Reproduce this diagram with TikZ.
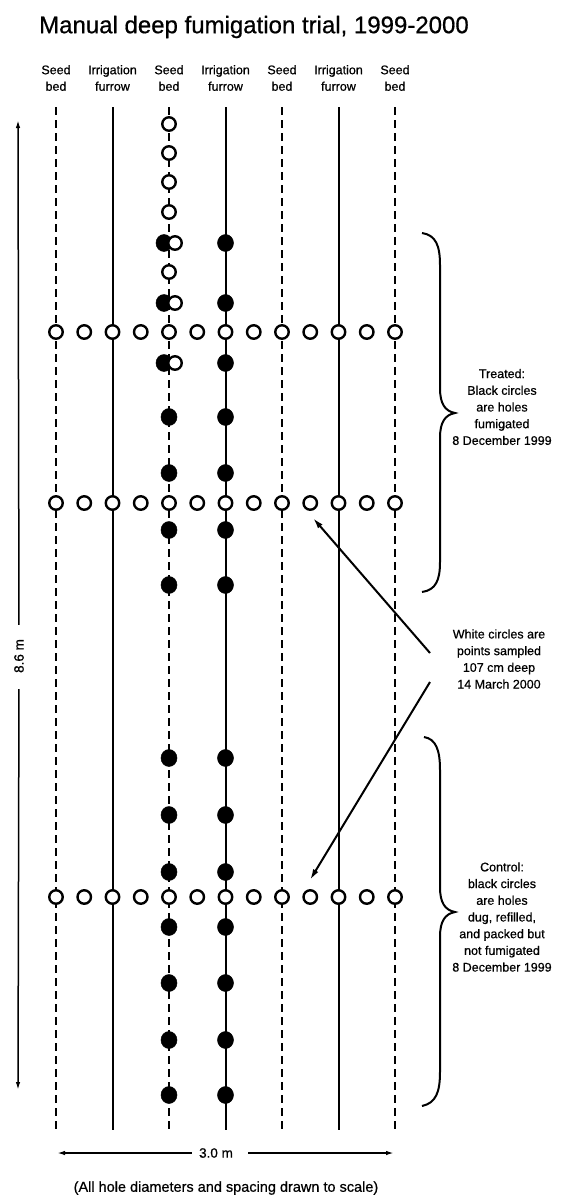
\documentclass[tikz,border=0pt]{standalone}
\usepackage{fontspec}
\setmainfont{Liberation Sans}
\newfontfamily\scanfont{Liberation Sans}[FakeBold=0.6]
\usetikzlibrary{arrows.meta,calc,shapes.geometric}
\begin{document}
\begin{tikzpicture}[x=1pt,y=-1pt,
  seedline/.style={line width=2.4pt, dash pattern=on 8pt off 5pt},
  furrowline/.style={line width=2pt},
  wh/.style={circle, draw, fill=white, line width=2.4pt, minimum size=13.5pt, inner sep=0pt},
  bk/.style={ellipse, fill=black, draw=black, line width=0.5pt, minimum width=16pt, minimum height=17pt, inner sep=0pt},
  lab/.style={font=\scanfont\fontsize{12.5}{16.5}\selectfont, align=center, inner sep=0pt},
  side/.style={font=\scanfont\fontsize{12.5}{16.7}\selectfont, align=center, inner sep=0pt},
  arr/.style={line width=2pt, -{Latex[length=11pt,width=6pt]}},
  dim/.style={line width=1.5pt, -{Latex[length=8pt,width=4.5pt]}},
  brace/.style={line width=2pt},
]
\useasboundingbox[fill=white] (0,0) rectangle (578,1197);

% title
\node[font=\scanfont\fontsize{24}{28}\selectfont, anchor=west, inner sep=0pt] (title) at (39,27) {Manual deep fumigation trial, 1999-2000};

% columns
\foreach \i/\x/\t in {0/56/Seed\\bed,1/112.5/Irrigation\\furrow,2/169/Seed\\bed,3/225.5/Irrigation\\furrow,4/282/Seed\\bed,5/338.5/Irrigation\\furrow,6/395/Seed\\bed}{
  \node[lab] (lab\i) at (\x,78) {\t};
  \coordinate (top\i) at (\x,107);
  \coordinate (bot\i) at (\x,1130);
}
\foreach \i in {0,2,4,6}{\draw[seedline] (top\i) -- (bot\i);}
\foreach \i in {1,3,5}{\draw[furrowline] (top\i) -- (bot\i);}

% sampling rows
\foreach \r/\y in {1/332,2/503,3/897}{
  \foreach \k in {0,...,12}{
    \node[wh] (r\r-\k) at ({56+28.25*\k},\y) {};
  }
}

% centre seed bed: white sample circles
\foreach \n/\y in {1/124,2/153,3/182,4/212,5/272}{
  \node[wh] (sw\n) at (169,\y) {};
}
% overlapping black holes and white samples
\foreach \n/\y in {1/243,2/303,3/363}{
  \node[bk] (hb\n) at (164,\y) {};
  \node[wh] (hw\n) at (175,\y) {};
}
% centre seed bed: black holes
\foreach \n/\y in {1/417,2/473,3/530,4/585,5/758,6/815,7/872,8/927,9/983,10/1040,11/1095}{
  \node[bk] (sb\n) at (169,\y) {};
}
% centre furrow: black holes
\foreach \n/\y in {1/243,2/303,3/363,4/417,5/473,6/530,7/585,8/758,9/815,10/872,11/927,12/983,13/1040,14/1095}{
  \node[bk] (fb\n) at (225.5,\y) {};
}

% braces
\draw[brace] (422,233) .. controls (436,235) and (440,246) .. (440,265) -- (440,388)
  .. controls (440,404) and (445,411) .. (455,413)
  .. controls (445,415) and (440,422) .. (440,438) -- (440,562)
  .. controls (440,580) and (436,590) .. (422,592);
\draw[brace] (424,737) .. controls (436,739) and (440,750) .. (440,770) -- (440,887)
  .. controls (440,903) and (445,910) .. (455,912)
  .. controls (445,914) and (440,921) .. (440,937) -- (440,1072)
  .. controls (440,1092) and (436,1103) .. (422,1106);

% side texts
\node[side] (treated) at (502,407) {Treated:\\Black circles\\are holes\\fumigated\\8 December 1999};
\node[side] (white) at (499,659) {White circles are\\points sampled\\107 cm deep\\14 March 2000};
\node[side] (control) at (502,917) {Control:\\black circles\\are holes\\dug, refilled,\\and packed but\\not fumigated\\8 December 1999};

% arrows from the white-circle note
\coordinate (a1s) at (430,653);
\coordinate (a1e) at (313,518);
\coordinate (a2s) at (430,682);
\coordinate (a2e) at (310,880);
\draw[arr] (a1s) -- (a1e);
\draw[arr] (a2s) -- (a2e);

% 8.6 m dimension
\node[font=\scanfont\fontsize{13.5}{15}\selectfont, rotate=90, inner sep=0pt] (m86) at (19,656) {8.6 m};
\coordinate (vtop) at (18,120);
\coordinate (vbot) at (18,1090);
\draw[dim, shorten <=14pt] (m86.east) -- (vtop);
\draw[dim, shorten <=16pt] (m86.west) -- (vbot);

% 3.0 m dimension
\node[font=\scanfont\fontsize{13.5}{15}\selectfont, inner sep=0pt] (m30) at (216,1153) {3.0 m};
\coordinate (hl) at (57,1153);
\coordinate (hr) at (394,1153);
\draw[dim, shorten <=7pt] (m30.west) -- (hl);
\draw[dim, shorten <=15pt] (m30.east) -- (hr);

% footnote
\node[font=\scanfont\fontsize{14.5}{16}\selectfont, inner sep=0pt] (note) at (226,1188) {(All hole diameters and spacing drawn to scale)};
\end{tikzpicture}
\end{document}
